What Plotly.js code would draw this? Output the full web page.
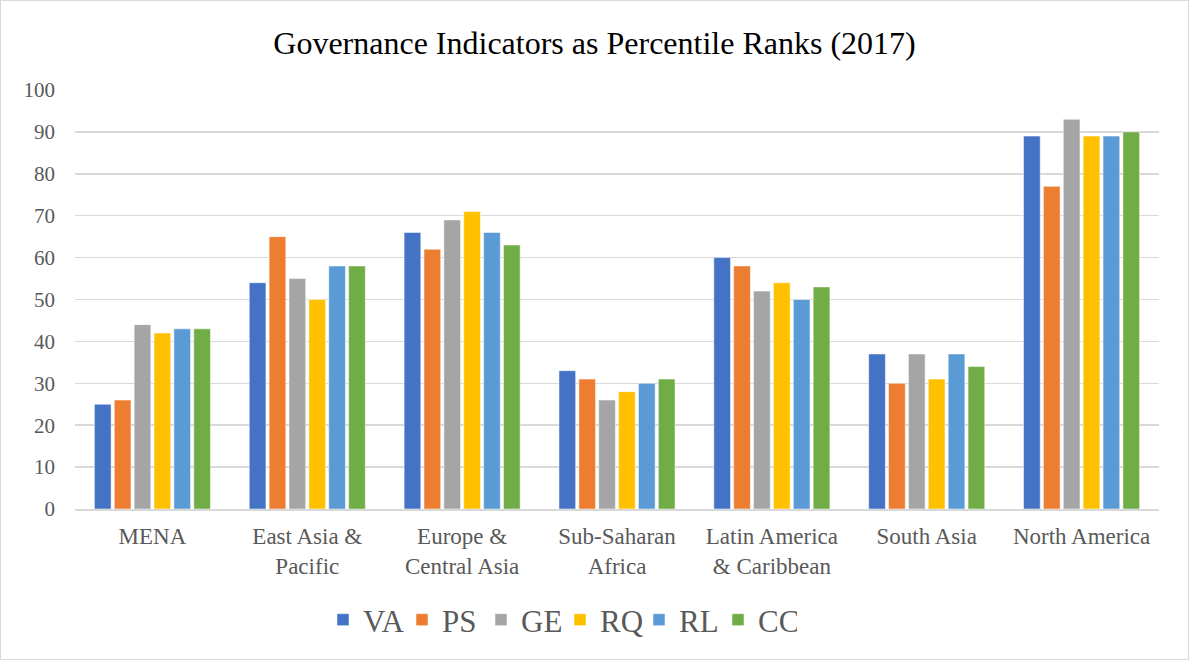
<!DOCTYPE html>
<html>
<head>
<meta charset="utf-8">
<script src="https://cdn.plot.ly/plotly-3.0.1.min.js"></script>
<style>
html,body{margin:0;padding:0;background:#fff;}
#chart{width:1187px;height:658px;border:1px solid #d9d9d9;}
</style>
</head>
<body>
<div id="chart"></div>
<script>
const categories = ["MENA", "East Asia &<br>Pacific", "Europe &<br>Central Asia", "Sub-Saharan<br>Africa", "Latin America<br>& Caribbean", "South Asia", "North America"];
const seriesNames = ["VA", "PS", "GE", "RQ", "RL", "CC"];
const VA = [25, 54, 66, 33, 60, 37, 89];
const PS = [26, 65, 62, 31, 58, 30, 77];
const GE = [44, 55, 69, 26, 52, 37, 93];
const RQ = [42, 50, 71, 28, 54, 31, 89];
const RL = [43, 58, 66, 30, 50, 37, 89];
const CC = [43, 58, 63, 31, 53, 34, 90];
const colors = ["#4472C4", "#ED7D31", "#A5A5A5", "#FFC000", "#5B9BD5", "#70AD47"];
const values = [VA, PS, GE, RQ, RL, CC];
const SERIF = "'Times New Roman', 'Liberation Serif', serif";

const traces = seriesNames.map((n, i) => ({
  type: "bar",
  name: n,
  x: categories,
  y: values[i],
  marker: {color: colors[i], line: {color: "#ffffff", width: 0.5}},
  hoverinfo: "x+y+name"
}));

const layout = {
  width: 1187,
  height: 658,
  margin: {l: 74, r: 29, t: 89, b: 150},
  paper_bgcolor: "#ffffff",
  plot_bgcolor: "#ffffff",
  font: {family: SERIF, color: "#595959", size: 18},
  title: {
    text: "Governance Indicators as Percentile Ranks (2017)",
    font: {family: SERIF, size: 32, color: "#000000"},
    x: 0.5, xanchor: "center", y: 0.937, yanchor: "middle"
  },
  barmode: "group",
  bargap: 0.23,
  bargroupgap: 0.16,
  xaxis: {
    showgrid: false,
    showline: true,
    linecolor: "#d9d9d9",
    linewidth: 1.5,
    ticks: "",
    ticklabelstandoff: 6,
    tickfont: {family: SERIF, size: 23, color: "#595959"},
    automargin: false
  },
  yaxis: {
    range: [0, 100],
    dtick: 10,
    showgrid: true,
    gridcolor: "#d9d9d9",
    gridwidth: 1.5,
    zeroline: false,
    showline: false,
    ticks: "",
    ticklabelstandoff: 19,
    tickfont: {family: SERIF, size: 21, color: "#595959"},
    automargin: false
  },
  showlegend: true,
  legend: {
    orientation: "h",
    x: 0.2288, xanchor: "left",
    y: -0.265, yanchor: "middle",
    font: {family: SERIF, size: 31, color: "#595959"},
    itemwidth: 30,
    entrywidth: 34,
    entrywidthmode: "pixels",
    traceorder: "normal"
  }
};

Plotly.newPlot("chart", traces, layout, {displayModeBar: false, staticPlot: true});
</script>
</body>
</html>
